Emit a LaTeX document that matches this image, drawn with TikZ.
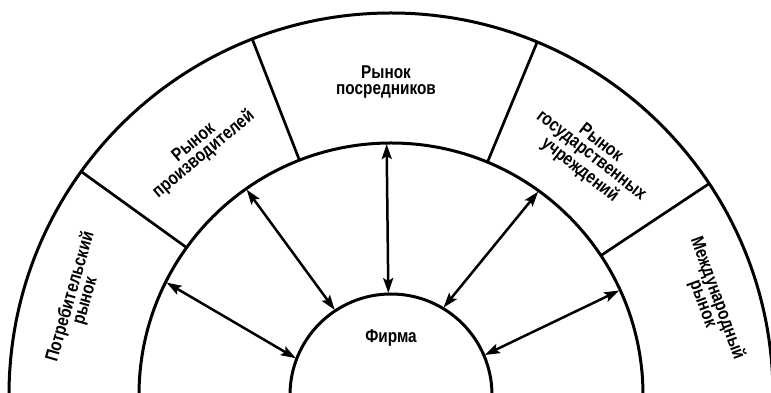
\documentclass[tikz,border=0pt]{standalone}
\usepackage{fontspec}
\setmainfont[FakeStretch=0.83]{Liberation Sans}
\usetikzlibrary{arrows.meta}
\tikzset{
  ring/.style={line width=3pt},
  divider/.style={line width=2.7pt},
  link/.style={line width=2.5pt,{Stealth[length=15pt,width=10pt,inset=3pt]}-{Stealth[length=15pt,width=10pt,inset=3pt]}},
  lbl/.style={align=center,inner sep=0pt,font=\fontsize{18.5}{15.5}\selectfont\bfseries}
}
\begin{document}
\begin{tikzpicture}[x=1pt,y=1pt]
\useasboundingbox (0,0) rectangle (771,393);
\clip (0,0) rectangle (771,393);
\coordinate (C) at (391,-2);
% rings
\draw[ring] ([shift={(C)}]0:382) arc[start angle=0,end angle=180,radius=382];
\draw[ring] ([shift={(C)}]0:252) arc[start angle=0,end angle=180,radius=252];
\draw[ring] ([shift={(C)}]0:101) arc[start angle=0,end angle=180,radius=101];
% dividers
\foreach \a [count=\i] in {33.6,67.5,111.3,144.2}{
  \coordinate (dm\i) at ([shift={(C)}]\a:252);
  \coordinate (do\i) at ([shift={(C)}]\a:382);
  \draw[divider] (dm\i) -- (do\i);
}
% arrows
\foreach \ai/\am [count=\i] in {158.9/153.4,123.5/125.1,91.5/91,59/54.1,23.1/24.6}{
  \coordinate (ai\i) at ([shift={(C)}]\ai:102);
  \coordinate (am\i) at ([shift={(C)}]\am:251);
  \draw[link] (ai\i) -- (am\i);
}
% labels
\node[lbl] (firm) at (391,55) {Фирма};
\node[lbl,rotate=74] (cons) at (78,94) {Потребительский\\рынок};
\node[lbl,rotate=40] (prod) at (199,244) {Рынок\\производителей};
\node[lbl] (inter) at (386,311) {Рынок\\посредников};
\node[lbl,rotate=-38] (gov) at (590,236) {Рынок\\государственных\\учреждений};
\node[lbl,rotate=-70] (intl) at (710,92) {Международный\\рынок};
\end{tikzpicture}
\end{document}
